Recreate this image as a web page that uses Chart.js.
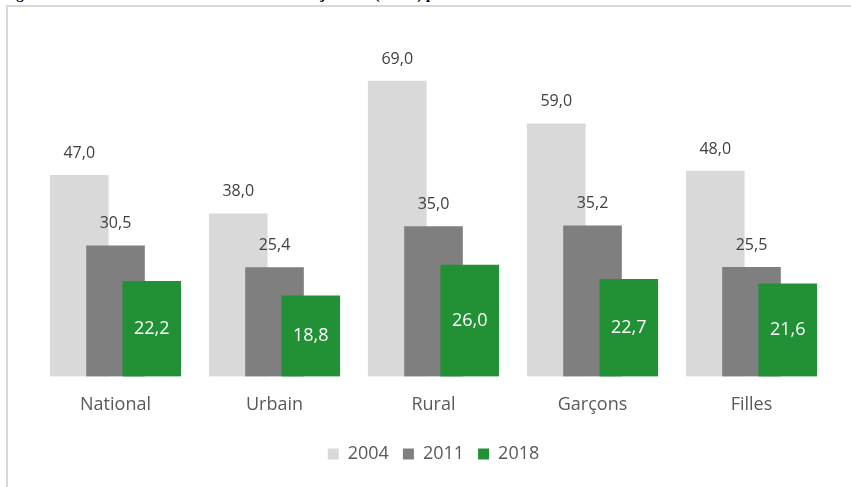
<!DOCTYPE html>
<html>
<head>
<meta charset="utf-8">
<script src="https://cdn.jsdelivr.net/npm/chart.js@4/dist/chart.umd.min.js"></script>
<style>
  html, body { margin: 0; padding: 0; background: #fff; overflow: hidden; }
  #wrap { position: relative; width: 851px; height: 487px; }
  #title {
    position: absolute; left: 3px; top: -13px; white-space: nowrap;
    font: bold 15px/15px "Liberation Serif", serif; color: #000;
  }
  #frame {
    position: absolute; left: 6px; top: 5px; width: 860px; height: 500px;
    border-left: 2px solid #d9d9d9; border-top: 2px solid #d9d9d9;
  }
  canvas { position: absolute; left: 0; top: 0; }
</style>
</head>
<body>
<div id="wrap">
  <div id="title">Figure 2 : Evolution du taux de mortalité infanto-juvénile (TMIJ) par sexe et milieu de résidence</div>
  <div id="frame"></div>
  <canvas id="mortaliteChart" width="851" height="487"></canvas>
</div>
<script>
// Données
const categories = ['National', 'Urbain', 'Rural', 'Garçons', 'Filles'];
const years = ['2004', '2011', '2018'];
const values2004 = [47.0, 38.0, 69.0, 59.0, 48.0];
const values2011 = [30.5, 25.4, 35.0, 35.2, 25.5];
const values2018 = [22.2, 18.8, 26.0, 22.7, 21.6];

// barres qui se chevauchent : décalage dans l'unité de l'axe x
const shift = 0.228;

function points(values, off) {
    return values.map((v, i) => ({ x: i + off, y: v }));
}

function fmt(v) {
    return v.toFixed(1).replace('.', ',');
}

// étiquettes de valeurs (pas de plugin datalabels dispo)
const valueLabels = {
    id: 'valueLabels',
    afterDatasetsDraw(chart) {
        const ctx = chart.ctx;
        ctx.save();
        ctx.textAlign = 'center';
        ctx.textBaseline = 'middle';
        chart.data.datasets.forEach((ds, d) => {
            const meta = chart.getDatasetMeta(d);
            meta.data.forEach((bar, i) => {
                const v = ds.data[i].y;
                if (d === 2) {
                    ctx.fillStyle = '#ffffff';
                    ctx.font = '18px "Open Sans"';
                    ctx.fillText(fmt(v), bar.x, (bar.y + bar.base) / 2);
                } else {
                    ctx.fillStyle = '#404040';
                    ctx.font = '16px "Open Sans"';
                    ctx.fillText(fmt(v), bar.x, bar.y - 22);
                }
            });
        });
        ctx.restore();
    }
};

const ctx = document.getElementById('mortaliteChart').getContext('2d');
const mortaliteChart = new Chart(ctx, {
    type: 'bar',
    data: {
        datasets: [{
            label: years[0],
            data: points(values2004, -shift),
            backgroundColor: '#d9d9d9',
            order: 2
        }, {
            label: years[1],
            data: points(values2011, 0),
            backgroundColor: '#7f7f7f',
            order: 1
        }, {
            label: years[2],
            data: points(values2018, shift),
            backgroundColor: '#229136',
            order: 0
        }]
    },
    options: {
        responsive: false,
        animation: false,
        events: [],
        layout: {
            padding: { left: 36, right: 20, top: 34, bottom: 14 }
        },
        datasets: {
            bar: { grouped: false, barThickness: 58, borderWidth: 0 }
        },
        scales: {
            x: {
                type: 'linear',
                min: -0.5,
                max: 4.5,
                offset: false,
                grid: { display: false },
                border: { display: false },
                afterBuildTicks: (axis) => {
                    axis.ticks = categories.map((c, i) => ({ value: i }));
                },
                afterFit: (axis) => {
                    axis.height += 5;
                },
                ticks: {
                    padding: 10,
                    color: '#595959',
                    font: { family: 'Open Sans', size: 18 },
                    callback: (val) => categories[val] ?? ''
                }
            },
            y: {
                display: false,
                min: 0,
                max: 80
            }
        },
        plugins: {
            tooltip: { enabled: false },
            legend: {
                position: 'bottom',
                labels: {
                    boxWidth: 11,
                    boxHeight: 11,
                    padding: 14,
                    color: '#595959',
                    font: { family: 'Open Sans', size: 18 },
                    sort: (a, b) => a.datasetIndex - b.datasetIndex
                }
            }
        }
    },
    plugins: [valueLabels]
});
</script>
</body>
</html>
